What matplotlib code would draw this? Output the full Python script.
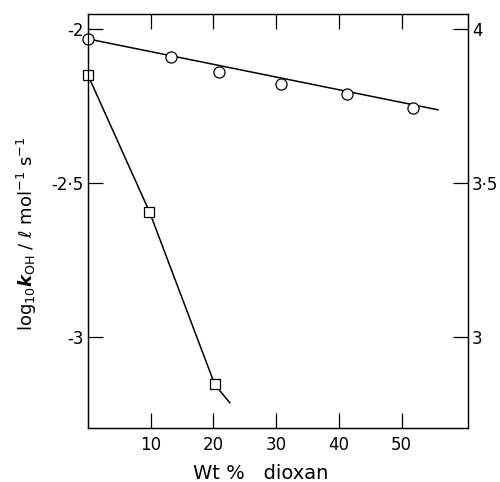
import matplotlib
matplotlib.use("Agg")
from matplotlib import pyplot as plt
import numpy as np

# circles: upper series
circ_x = [0, 13.2, 20.9, 30.8, 41.3, 51.8]
circ_y = [-2.032, -2.092, -2.138, -2.177, -2.211, -2.257]
circ_line_x = [0, 55.8]
circ_line_y = [-2.032, -2.262]

# squares: lower series
sq_x = [0, 9.8, 20.2]
sq_y = [-2.150, -2.593, -3.153]
sq_line_x = [0, 9.8, 20.2, 22.6]
sq_line_y = [-2.150, -2.593, -3.153, -3.213]

xticks = [10, 20, 30, 40, 50]
left_ticks = [-2, -2.5, -3]
left_labels = ["-2", "-2\u00b75", "-3"]
right_ticks = [4, 3.5, 3]
right_labels = ["4", "3\u00b75", "3"]

plt.rcParams['font.family'] = ['DejaVu Sans']
plt.rcParams['mathtext.fontset'] = 'dejavusans'

fig = plt.figure(figsize=(5.0, 4.82), dpi=100)
ax = fig.add_axes([0.176, 0.112, 0.76, 0.859])

ax.plot(circ_line_x, circ_line_y, 'k-', lw=1.1, clip_on=False, zorder=2)
ax.plot(circ_x, circ_y, 'o', ms=8, mfc='white', mec='k', mew=0.9,
        clip_on=False, zorder=3)
ax.plot(sq_line_x, sq_line_y, 'k-', lw=1.1, clip_on=False, zorder=2)
ax.plot(sq_x, sq_y, 's', ms=7.8, mfc='white', mec='k', mew=0.9,
        clip_on=False, zorder=3)

ax.set_xlim(0, 60.6)
ax.set_ylim(-3.295, -1.951)
ax.set_xticks(xticks)
ax.set_xticklabels([str(t) for t in xticks])
ax.set_yticks(left_ticks)
ax.set_yticklabels(left_labels)

ax.tick_params(axis='x', direction='in', length=10.5, width=0.9,
               top=True, labelsize=12, pad=6)
ax.tick_params(axis='y', direction='in', length=10.5, width=0.9,
               labelsize=12, pad=3)
for s in ax.spines.values():
    s.set_linewidth(0.9)

ax2 = ax.twinx()
ax2.set_ylim(-3.295 + 6, -1.951 + 6)
ax2.set_yticks(right_ticks)
ax2.set_yticklabels(right_labels)
ax2.tick_params(axis='y', direction='in', length=10.5, width=0.9,
                labelsize=12, pad=3)
for s in ax2.spines.values():
    s.set_linewidth(0.9)

ax.set_xlabel("Wt %   dioxan", fontsize=14)
ax.xaxis.set_label_coords(0.455, -0.088)
ax.set_ylabel(r"log$_{10}\boldsymbol{k}_{\rm OH}$ / $\ell$ mol$^{-1}$ s$^{-1}$",
              fontsize=13)
ax.yaxis.set_label_coords(-0.13, 0.47)

fig.savefig("out.png", dpi=100)
